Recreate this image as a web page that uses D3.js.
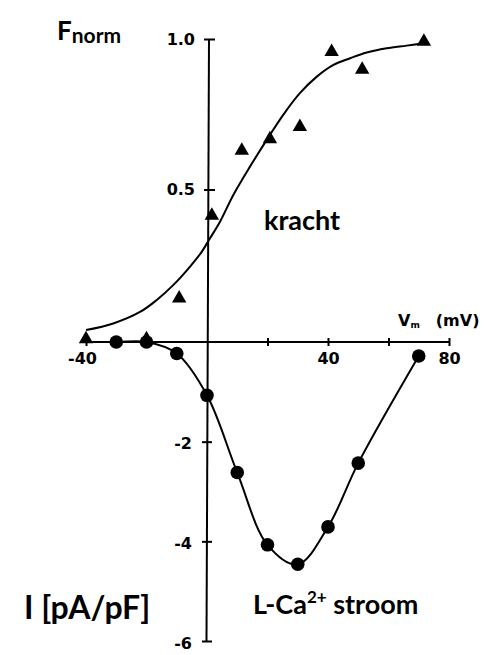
<!DOCTYPE html>
<html><head><meta charset="utf-8">
<script src="https://cdn.jsdelivr.net/npm/d3@7"></script>
<style>body{margin:0;background:#fff}svg{display:block}</style>
</head><body>
<script>
// Force (kracht) measurements, triangles
const forceV = [-40, -20, -9.2, 1.6, 11.5, 20.8, 30.7, 41.2, 51.3, 71.7];
const forceF = [0.0, 0.0, 0.135, 0.41, 0.626, 0.664, 0.705, 0.954, 0.895, 0.988];
// Fitted force curve
const fitV = [-40, -31, -22, -16.6, -11.1, -5.6, -1.75, 1, 4.3, 8.7, 14.2, 19.7, 25.2, 30.7, 36.3, 41.8, 47.3, 52.8, 59.4, 66, 71.5];
const fitF = [0.033, 0.055, 0.094, 0.133, 0.183, 0.244, 0.293, 0.338, 0.393, 0.482, 0.576, 0.664, 0.748, 0.82, 0.875, 0.914, 0.936, 0.955, 0.969, 0.978, 0.986];
// L-type Ca2+ current, circles
const currentV = [-30, -20, -10, 0, 10, 20, 30, 40, 50, 70];
const currentI = [0.0, 0.0, -0.23, -1.07, -2.62, -4.07, -4.46, -3.71, -2.43, -0.28];
const currentStartV = [-40];
const currentStartI = [0.0];
// Ticks
const xTickValues = [-40, 20, 40, 60, 80];
const xTickLabels = ["-40", "", "40", "", "80"];
const fTickValues = [1.0, 0.5];
const iTickValues = [-2, -4, -6];

const W = 488, H = 655;
const svg = d3.select("body").append("svg").attr("width", W).attr("height", H);

const x = d3.scaleLinear().domain([-40, 80]).range([86, 449]);
const yF = d3.scaleLinear().domain([0, 1]).range([340, 39]);
const yI = d3.scaleLinear().domain([0, -6]).range([342, 641]);
const x0 = x(0);

const tickFont = "'DejaVu Sans', sans-serif";
const labFont = "Lato, 'Open Sans', sans-serif";

// X axis
const gx = svg.append("g").attr("transform", `translate(0,${yI(0)})`)
  .call(d3.axisBottom(x).tickValues(xTickValues)
    .tickFormat((d, i) => xTickLabels[i]).tickSizeInner(4).tickSizeOuter(0).tickPadding(7));
gx.select(".domain").attr("stroke", "#000").attr("stroke-width", 2).attr("d", `M${x(-40) - 6},0H${x(80)}`);
gx.selectAll(".tick line").attr("y1", -4).attr("y2", 4).attr("stroke", "#000").attr("stroke-width", 2);
gx.selectAll(".tick text").attr("font-family", tickFont).attr("font-weight", "bold")
  .attr("font-size", 16).attr("fill", "#000");
gx.selectAll(".tick text").filter(d => d === -40).attr("dx", -4);

// Vertical axis line
svg.append("line").attr("x1", x0 + 2).attr("x2", x0 - 0.5)
  .attr("y1", yF(1)).attr("y2", yI(-6)).attr("stroke", "#000").attr("stroke-width", 2);

// Force axis ticks
const gf = svg.append("g").attr("transform", `translate(${x0 + 2},0)`)
  .call(d3.axisLeft(yF).tickValues(fTickValues).tickFormat(d3.format(".1f"))
    .tickSizeInner(5).tickSizeOuter(0).tickPadding(9));
gf.select(".domain").remove();
gf.selectAll(".tick line").attr("x1", -5).attr("x2", 6).attr("stroke", "#000").attr("stroke-width", 2);
gf.selectAll(".tick text").attr("font-family", tickFont).attr("font-weight", "bold")
  .attr("font-size", 16).attr("fill", "#000");

// Current axis ticks
const gi = svg.append("g").attr("transform", `translate(${x0},0)`)
  .call(d3.axisLeft(yI).tickValues(iTickValues).tickFormat(d => String(d))
    .tickSizeInner(5).tickSizeOuter(0).tickPadding(10));
gi.select(".domain").remove();
gi.selectAll(".tick line").attr("x1", -5).attr("x2", 5).attr("stroke", "#000").attr("stroke-width", 2);
gi.selectAll(".tick text").attr("font-family", tickFont).attr("font-weight", "bold")
  .attr("font-size", 16).attr("fill", "#000").attr("dy", "0.45em");

// Force fit curve
const fitData = fitV.map((v, i) => [v, fitF[i]]);
svg.append("path").datum(fitData)
  .attr("d", d3.line().x(d => x(d[0])).y(d => yF(d[1])).curve(d3.curveCatmullRom.alpha(0.5)))
  .attr("fill", "none").attr("stroke", "#000").attr("stroke-width", 2);

// Current curve
const curData = currentStartV.map((v, i) => [v, currentStartI[i]])
  .concat(currentV.map((v, i) => [v, currentI[i]]));
svg.append("path").datum(curData)
  .attr("d", d3.line().x(d => x(d[0])).y(d => yI(d[1])).curve(d3.curveCatmullRom.alpha(0.5)))
  .attr("fill", "none").attr("stroke", "#000").attr("stroke-width", 2);

// Circles
svg.append("g").selectAll("circle").data(currentV.map((v, i) => [v, currentI[i]]))
  .join("circle").attr("cx", d => x(d[0])).attr("cy", d => yI(d[1])).attr("r", 6.8).attr("fill", "#000");

// Triangles
const tri = d3.symbol().type(d3.symbolTriangle).size(90);
svg.append("g").selectAll("path").data(forceV.map((v, i) => [v, forceF[i]]))
  .join("path").attr("d", tri)
  .attr("transform", d => `translate(${x(d[0])},${yF(d[1]) - 1})`).attr("fill", "#000");

// Labels
const fl = svg.append("text").attr("x", 57).attr("y", 40).attr("font-family", labFont)
  .attr("font-weight", "bold").attr("fill", "#000");
fl.append("tspan").attr("font-size", 26).text("F");
fl.append("tspan").attr("font-size", 21).attr("dy", 3).text("norm");

svg.append("text").attr("x", 264).attr("y", 230).attr("font-family", labFont)
  .attr("font-weight", "bold").attr("font-size", 27).attr("fill", "#000").text("kracht");

svg.append("text").attr("x", 24).attr("y", 619).attr("font-family", labFont)
  .attr("font-weight", "bold").attr("font-size", 32).attr("fill", "#000").text("I [pA/pF]");

const ca = svg.append("text").attr("x", 253).attr("y", 614).attr("font-family", labFont)
  .attr("font-weight", "bold").attr("font-size", 27).attr("fill", "#000");
ca.append("tspan").text("L-Ca");
ca.append("tspan").attr("font-size", 17).attr("dy", -11).text("2+");
ca.append("tspan").attr("dy", 11).text(" stroom");

const vm = svg.append("text").attr("x", 398).attr("y", 326).attr("font-family", tickFont)
  .attr("font-weight", "bold").attr("font-size", 16).attr("fill", "#000");
vm.append("tspan").text("V");
vm.append("tspan").attr("font-size", 9).attr("dy", 2).text("m");
vm.append("tspan").attr("dy", -2).attr("dx", 16).text("(mV)");
</script>
</body></html>
